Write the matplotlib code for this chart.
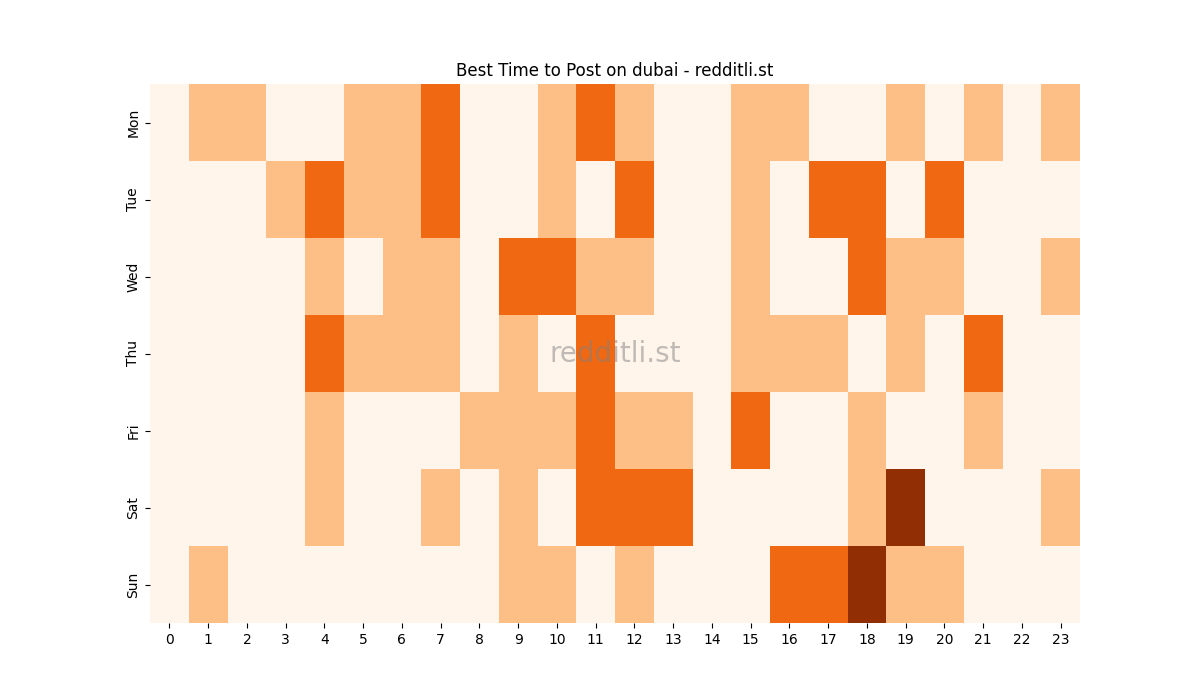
import matplotlib
matplotlib.use("Agg")
import matplotlib.pyplot as plt
import seaborn as sns
import numpy as np

days = ["Mon", "Tue", "Wed", "Thu", "Fri", "Sat", "Sun"]
hours = list(range(24))
mon = [0,1,1,0,0,1,1,2,0,0,1,2,1,0,0,1,1,0,0,1,0,1,0,1]
tue = [0,0,0,1,2,1,1,2,0,0,1,0,2,0,0,1,0,2,2,0,2,0,0,0]
wed = [0,0,0,0,1,0,1,1,0,2,2,1,1,0,0,1,0,0,2,1,1,0,0,1]
thu = [0,0,0,0,2,1,1,1,0,1,0,2,0,0,0,1,1,1,0,1,0,2,0,0]
fri = [0,0,0,0,1,0,0,0,1,1,1,2,1,1,0,2,0,0,1,0,0,1,0,0]
sat = [0,0,0,0,1,0,0,1,0,1,0,2,2,2,0,0,0,0,1,3,0,0,0,1]
sun = [0,1,0,0,0,0,0,0,0,1,1,0,1,0,0,0,2,2,3,1,1,0,0,0]

data = np.array([mon, tue, wed, thu, fri, sat, sun])

fig, ax = plt.subplots(figsize=(12, 7), dpi=100)
sns.heatmap(data, cmap="Oranges", vmin=0, vmax=3.2, cbar=False, ax=ax,
            xticklabels=hours, yticklabels=days)
ax.set_title("Best Time to Post on dubai - redditli.st")
ax.text(0.5, 0.5, "redditli.st", transform=ax.transAxes, ha="center", va="center",
        fontsize=20, color="gray", alpha=0.5)
fig.savefig("out.png")
